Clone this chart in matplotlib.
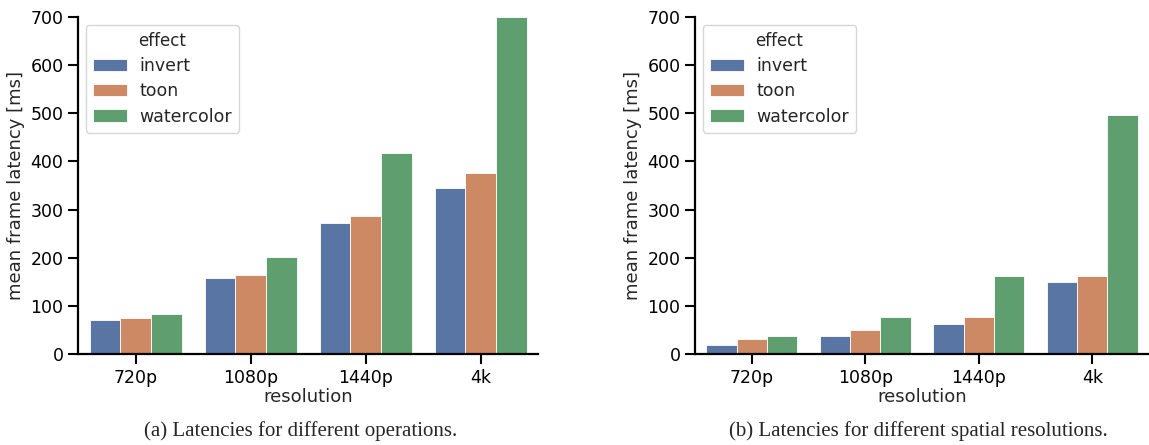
import matplotlib
matplotlib.use("Agg")
import matplotlib.pyplot as plt
import seaborn as sns
import numpy as np

resolutions = ["720p", "1080p", "1440p", "4k"]
effects = ["invert", "toon", "watercolor"]

# (a) Latencies for different operations
lat_a_invert = [71, 157, 272, 344]
lat_a_toon = [74, 165, 286, 377]
lat_a_watercolor = [83, 202, 418, 700]

# (b) Latencies for different spatial resolutions
lat_b_invert = [19, 37, 62, 149]
lat_b_toon = [31, 49, 77, 163]
lat_b_watercolor = [37, 76, 162, 497]

yticks = [0, 100, 200, 300, 400, 500, 600, 700]
captions = ["(a) Latencies for different operations.",
            "(b) Latencies for different spatial resolutions."]

sns.set_theme(style="ticks")
plt.rcParams['font.family'] = ['DejaVu Sans']

deep = sns.color_palette("deep")
colors = [sns.desaturate(c, 0.75) for c in deep[:3]]

fig = plt.figure(figsize=(11.49, 4.45), dpi=100)
ax_pos = [[78 / 1149, 91 / 445, 460 / 1149, 337 / 445],
          [695 / 1149, 91 / 445, 454 / 1149, 337 / 445]]

datasets = [[lat_a_invert, lat_a_toon, lat_a_watercolor],
            [lat_b_invert, lat_b_toon, lat_b_watercolor]]

x = np.arange(len(resolutions))
w = 0.8 / 3
for pos, data, cap, cx in zip(ax_pos, datasets, captions, [301, 918]):
    ax = fig.add_axes(pos)
    for i, (eff, vals) in enumerate(zip(effects, data)):
        ax.bar(x + (i - 1) * w, vals, width=w, color=colors[i], label=eff,
               edgecolor="white", linewidth=0.6)
    ax.set_xlim(-0.5, 3.5)
    ax.set_ylim(0, 700)
    ax.set_yticks(yticks)
    ax.set_xticks(x)
    ax.set_xticklabels(resolutions)
    ax.tick_params(labelsize=12.5, length=7, width=1.5, colors="black")
    ax.set_xlabel("resolution", fontsize=13, labelpad=1)
    ax.set_ylabel("mean frame latency [ms]", fontsize=13)
    for s in ["left", "bottom"]:
        ax.spines[s].set_linewidth(1.6)
        ax.spines[s].set_color("black")
    sns.despine(ax=ax)
    leg = ax.legend(title="effect", loc="upper left", fontsize=12.5,
                    title_fontsize=12, frameon=True, fancybox=True,
                    bbox_to_anchor=(0.0, 1.0), borderaxespad=0.45,
                    labelspacing=0.42, handlelength=2.0, handleheight=0.7,
                    handletextpad=0.7)
    fig.text(cx / 1149, 1 - 431 / 445, cap, ha="center", va="center",
             fontsize=15, family="Liberation Serif")

fig.savefig("out.png", dpi=100)
